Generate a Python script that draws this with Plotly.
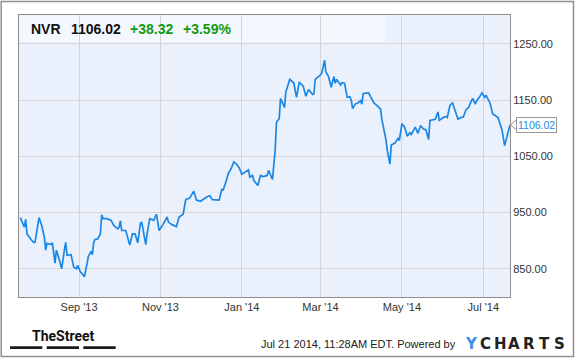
import plotly.graph_objects as go

dates = [
    "2013-07-19", "2013-07-20", "2013-07-22", "2013-07-23", "2013-07-24", "2013-07-27", "2013-07-29", "2013-07-30",
    "2013-08-01", "2013-08-02", "2013-08-04", "2013-08-06", "2013-08-07", "2013-08-08", "2013-08-11", "2013-08-12",
    "2013-08-14", "2013-08-15", "2013-08-17", "2013-08-19", "2013-08-21", "2013-08-22", "2013-08-23", "2013-08-26",
    "2013-08-28", "2013-08-30", "2013-08-31", "2013-09-02", "2013-09-03", "2013-09-05", "2013-09-07", "2013-09-08",
    "2013-09-10", "2013-09-11", "2013-09-12", "2013-09-13", "2013-09-15", "2013-09-16", "2013-09-17", "2013-09-18",
    "2013-09-19", "2013-09-22", "2013-09-25", "2013-09-27", "2013-09-30", "2013-10-01", "2013-10-02", "2013-10-03",
    "2013-10-06", "2013-10-09", "2013-10-11", "2013-10-13", "2013-10-15", "2013-10-17", "2013-10-18", "2013-10-21",
    "2013-10-22", "2013-10-24", "2013-10-27", "2013-10-29", "2013-10-31", "2013-11-03", "2013-11-06", "2013-11-07",
    "2013-11-10", "2013-11-13", "2013-11-15", "2013-11-18", "2013-11-20", "2013-11-23", "2013-11-26", "2013-11-28",
    "2013-12-01", "2013-12-06", "2013-12-08", "2013-12-10", "2013-12-15", "2013-12-17", "2013-12-18", "2013-12-20",
    "2013-12-22", "2013-12-24", "2013-12-26", "2013-12-28", "2013-12-30", "2014-01-01", "2014-01-04", "2014-01-06",
    "2014-01-07", "2014-01-09", "2014-01-10", "2014-01-13", "2014-01-15", "2014-01-17", "2014-01-20", "2014-01-21",
    "2014-01-24", "2014-01-26", "2014-01-27", "2014-01-29", "2014-01-30", "2014-02-02", "2014-02-03", "2014-02-06",
    "2014-02-09", "2014-02-11", "2014-02-13", "2014-02-16", "2014-02-18", "2014-02-20", "2014-02-23", "2014-02-24",
    "2014-02-25", "2014-03-01", "2014-03-02", "2014-03-04", "2014-03-05", "2014-03-07", "2014-03-09", "2014-03-11",
    "2014-03-12", "2014-03-13", "2014-03-16", "2014-03-17", "2014-03-19", "2014-03-21", "2014-03-23", "2014-03-24",
    "2014-03-25", "2014-03-27", "2014-03-29", "2014-03-31", "2014-04-01", "2014-04-02", "2014-04-06", "2014-04-08",
    "2014-04-10", "2014-04-13", "2014-04-15", "2014-04-16", "2014-04-19", "2014-04-20", "2014-04-22", "2014-04-23",
    "2014-04-26", "2014-04-27", "2014-04-28", "2014-04-29", "2014-05-01", "2014-05-03", "2014-05-05", "2014-05-07",
    "2014-05-08", "2014-05-11", "2014-05-13", "2014-05-15", "2014-05-17", "2014-05-19", "2014-05-21", "2014-05-22",
    "2014-05-26", "2014-05-28", "2014-05-29", "2014-06-01", "2014-06-03", "2014-06-04", "2014-06-06", "2014-06-08",
    "2014-06-10", "2014-06-12", "2014-06-14", "2014-06-16", "2014-06-18", "2014-06-20", "2014-06-21", "2014-06-23",
    "2014-06-25", "2014-06-26", "2014-06-28", "2014-06-30", "2014-07-02", "2014-07-03", "2014-07-06", "2014-07-08",
    "2014-07-12", "2014-07-13", "2014-07-15", "2014-07-17", "2014-07-21",
]

prices = [
    941, 936, 924, 938, 912, 902, 897, 897,
    930, 941, 927, 906, 883, 895, 893, 896,
    860, 883, 868, 850, 883, 897, 874, 875,
    853, 850, 856, 844, 842, 836, 859, 872,
    881, 875, 897, 902, 903, 909, 912, 946,
    939, 939, 936, 927, 921, 924, 935, 918,
    918, 892, 912, 912, 896, 931, 933, 893,
    912, 939, 936, 947, 918, 929, 942, 933,
    928, 925, 942, 947, 973, 976, 988, 972,
    970, 978, 980, 973, 972, 991, 990, 1004,
    1020, 1028, 1040, 1036, 1030, 1018, 1022, 1026,
    1013, 1016, 1007, 998, 1016, 1014, 1016, 1025,
    1009, 1061, 1111, 1117, 1153, 1137, 1165, 1187,
    1180, 1155, 1182, 1175, 1157, 1169, 1160, 1161,
    1187, 1195, 1199, 1221, 1200, 1192, 1173, 1192,
    1180, 1187, 1177, 1181, 1180, 1155, 1156, 1150,
    1135, 1143, 1145, 1149, 1143, 1162, 1163, 1155,
    1145, 1139, 1134, 1115, 1080, 1061, 1036, 1070,
    1074, 1078, 1082, 1078, 1108, 1102, 1086, 1092,
    1089, 1102, 1091, 1105, 1099, 1097, 1080, 1114,
    1116, 1129, 1114, 1119, 1121, 1119, 1141, 1145,
    1132, 1116, 1119, 1120, 1133, 1137, 1143, 1153,
    1143, 1149, 1155, 1163, 1155, 1159, 1145, 1126,
    1119, 1111, 1097, 1069, 1106.02,
]

ticker = "NVR"
last_price = "1106.02"
change = "+38.32"
change_pct = "+3.59%"

y_ticks = [850, 950, 1050, 1150, 1250]
x_tick_dates = ["2013-09-01", "2013-11-01", "2014-01-01", "2014-03-01", "2014-05-01", "2014-07-01"]
x_tick_labels = ["Sep '13", "Nov '13", "Jan '14", "Mar '14", "May '14", "Jul '14"]

footer_text = "Jul 21 2014, 11:28AM EDT. Powered by"
brand_left = "TheStreet"
logo_letters = ["Y", "C", "H", "A", "R", "T", "S"]

W, H = 575, 358
L, R, T, B = 19, 65, 15, 61
PW, PH = W - L - R, H - T - B


def px(x):
    return (x - L) / PW


def py(y):
    return (H - B - y) / PH


FONT = "Liberation Sans, Arial, sans-serif"

fig = go.Figure()
fig.add_trace(go.Scatter(
    x=dates, y=prices, mode="lines",
    line=dict(color="#1a87e6", width=1.7),
    hoverinfo="skip",
))

shapes = []
# header box
shapes.append(dict(type="rect", xref="paper", yref="paper", x0=0.001, x1=px(386), y0=py(42.3), y1=0.998,
                   fillcolor="#f4f7fe", line=dict(width=0), layer="below"))
# outer frame
shapes.append(dict(type="rect", xref="paper", yref="paper", x0=px(1.2), x1=px(573.5), y0=py(356.6), y1=py(1.4),
                   fillcolor="rgba(0,0,0,0)", line=dict(color="#8f8f8f", width=1.5)))
# TheStreet logo bars
for x0, x1 in [(10, 42.3), (46.7, 79), (83.3, 115.7)]:
    shapes.append(dict(type="rect", xref="paper", yref="paper", x0=px(x0), x1=px(x1), y0=py(349), y1=py(346.2),
                       fillcolor="#1a1a1a", line=dict(width=0)))
# last value pointer
val = prices[-1]
shapes.append(dict(type="path", xref="paper", yref="y",
                   path=f"M {px(510.5)},{val} L {px(516.5)},{val + 9} L {px(516.5)},{val - 9} Z",
                   fillcolor="white", line=dict(color="#999999", width=1)))

annotations = []
hy = py(29)
for txt, x, col in [(ticker, 29, "#111111"), (last_price, 69, "#111111"),
                    (change, 128, "#129a12"), (change_pct, 181, "#129a12")]:
    annotations.append(dict(text=f"<b>{txt}</b>", xref="paper", yref="paper", x=px(x), y=hy,
                            xanchor="left", yanchor="middle", showarrow=False,
                            font=dict(family=FONT, size=14, color=col)))

annotations.append(dict(text=last_price, xref="paper", yref="y", x=px(516), y=val,
                        xanchor="left", yanchor="middle", showarrow=False,
                        bgcolor="white", bordercolor="#999999", borderwidth=1, borderpad=1,
                        font=dict(family=FONT, size=10.5, color="#2a86e0")))

annotations.append(dict(text=f"<b>{brand_left}</b>", xref="paper", yref="paper", x=px(63.3), y=py(336),
                        xanchor="center", yanchor="middle", showarrow=False,
                        font=dict(family="Roboto, Liberation Sans, sans-serif",
                                  size=14, color="#111111")))

annotations.append(dict(text=footer_text, xref="paper", yref="paper", x=px(458), y=py(344),
                        xanchor="right", yanchor="middle", showarrow=False,
                        font=dict(family=FONT, size=11, color="#222222")))

for letter, cx in zip(logo_letters, [471, 485, 500, 514, 529, 544, 559]):
    annotations.append(dict(text=f"<b>{letter}</b>", xref="paper", yref="paper", x=px(cx), y=py(343.7),
                            xanchor="center", yanchor="middle", showarrow=False,
                            font=dict(family="DejaVu Sans, sans-serif", size=15,
                                      color="#3d8fe0" if letter == "Y" else "#222222")))

fig.update_layout(
    width=W, height=H,
    margin=dict(l=L, r=R, t=T, b=B, pad=0),
    paper_bgcolor="white",
    plot_bgcolor="#eaf1fd",
    showlegend=False,
    shapes=shapes,
    annotations=annotations,
    font=dict(family=FONT, size=11, color="#333333"),
    xaxis=dict(
        type="date",
        range=["2013-07-18", "2014-07-21"],
        tickvals=x_tick_dates,
        ticktext=x_tick_labels,
        showgrid=True, gridcolor="#d5d5d5", gridwidth=1,
        showline=True, mirror=True, linecolor="#8c8c8c", linewidth=1,
        ticks="", zeroline=False,
        tickfont=dict(family=FONT, size=11, color="#333333"),
        fixedrange=True,
    ),
    yaxis=dict(
        side="right",
        range=[799.7, 1301.5],
        tickvals=y_ticks,
        tickformat=".2f",
        showgrid=True, gridcolor="#d5d5d5", gridwidth=1,
        showline=True, mirror=True, linecolor="#8c8c8c", linewidth=1,
        ticks="", zeroline=False,
        tickfont=dict(family=FONT, size=11, color="#333333"),
        fixedrange=True,
    ),
)

fig.write_html("out.html", config={"displayModeBar": False})
